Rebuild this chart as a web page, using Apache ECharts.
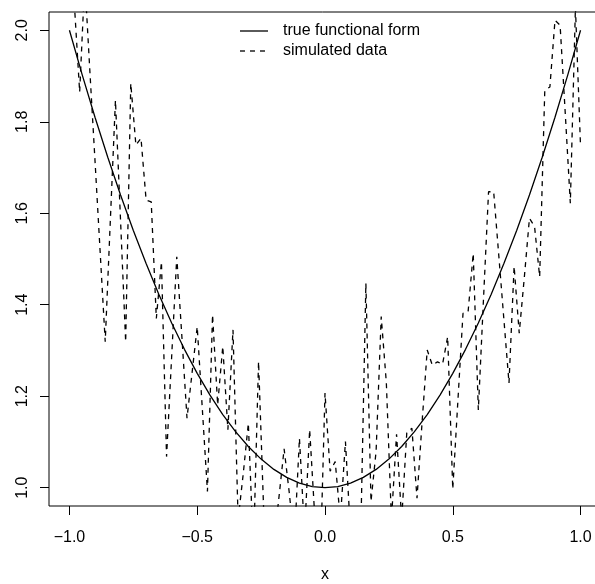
<!DOCTYPE html>
<html>
<head>
<meta charset="utf-8">
<script src="https://cdn.jsdelivr.net/npm/echarts@6/dist/echarts.min.js"></script>
<style>html,body{margin:0;padding:0;background:#fff;}#chart{width:595px;height:584px;}</style>
</head>
<body>
<div id="chart"></div>
<script>
// x positions of the simulated data (step 0.02)
const xSim = [-1.00,-0.98,-0.96,-0.94,-0.92,-0.90,-0.88,-0.86,-0.84,-0.82,-0.80,-0.78,-0.76,-0.74,-0.72,-0.70,-0.68,-0.66,-0.64,-0.62,
  -0.60,-0.58,-0.56,-0.54,-0.52,-0.50,-0.48,-0.46,-0.44,-0.42,-0.40,-0.38,-0.36,-0.34,-0.32,-0.30,-0.28,-0.26,-0.24,-0.22,
  -0.20,-0.18,-0.16,-0.14,-0.12,-0.10,-0.08,-0.06,-0.04,-0.02,0.00,0.02,0.04,0.06,0.08,0.10,0.12,0.14,0.16,0.18,
  0.20,0.22,0.24,0.26,0.28,0.30,0.32,0.34,0.36,0.38,0.40,0.42,0.44,0.46,0.48,0.50,0.52,0.54,0.56,0.58,
  0.60,0.62,0.64,0.66,0.68,0.70,0.72,0.74,0.76,0.78,0.80,0.82,0.84,0.86,0.88,0.90,0.92,0.94,0.96,0.98,1.00];
// simulated data values
const ySim = [2.08,2.05,1.865,2.11,1.91,1.715,1.517,1.319,1.584,1.847,1.584,1.319,1.884,1.749,1.764,1.629,1.625,1.370,1.494,1.068,
  1.287,1.505,1.330,1.152,1.252,1.352,1.172,0.992,1.378,1.181,1.309,1.127,1.345,0.93,1.03,1.141,0.86,1.276,0.95,0.85,
  0.88,0.98,1.085,0.99,0.88,1.108,0.90,1.127,0.937,0.80,1.207,1.036,1.057,0.93,1.101,0.90,0.85,0.90,1.447,0.97,
  1.08,1.374,1.23,0.93,1.117,0.93,1.12,1.13,0.977,1.144,1.301,1.268,1.275,1.270,1.330,0.997,1.19,1.381,1.385,1.512,
  1.170,1.41,1.647,1.647,1.508,1.368,1.229,1.484,1.338,1.46,1.589,1.571,1.461,1.869,1.876,2.022,2.011,1.82,1.622,2.05,1.745];
// true functional form, read at step 0.05
const xTrue = [-1.00,-0.95,-0.90,-0.85,-0.80,-0.75,-0.70,-0.65,-0.60,-0.55,-0.50,-0.45,-0.40,-0.35,-0.30,-0.25,-0.20,-0.15,-0.10,-0.05,
  0.00,0.05,0.10,0.15,0.20,0.25,0.30,0.35,0.40,0.45,0.50,0.55,0.60,0.65,0.70,0.75,0.80,0.85,0.90,0.95,1.00];
const yTrue = [2.000,1.9025,1.810,1.7225,1.640,1.5625,1.490,1.4225,1.360,1.3025,1.250,1.2025,1.160,1.1225,1.090,1.0625,1.040,1.0225,1.010,1.0025,
  1.000,1.0025,1.010,1.0225,1.040,1.0625,1.090,1.1225,1.160,1.2025,1.250,1.3025,1.360,1.4225,1.490,1.5625,1.640,1.7225,1.810,1.9025,2.000];
const xTicks = [-1.0,-0.5,0.0,0.5,1.0];
const yTicks = [1.0,1.2,1.4,1.6,1.8,2.0];
const seriesNames = ['true functional form','simulated data'];

const FONT = 'Liberation Sans, Arial, Helvetica, sans-serif';
const chart = echarts.init(document.getElementById('chart'), null, {renderer:'canvas'});
const fmt = v => v.toFixed(1).replace('-', '\u2212');

// legend drawn as graphic elements (R style, no box)
const legendGraphics = [];
seriesNames.forEach((name, i) => {
  const y = 31 + i * 20;
  legendGraphics.push({
    type: 'line', shape: {x1: 240, y1: y, x2: 268, y2: y},
    style: {stroke: '#000', lineWidth: 1.3, lineDash: i === 0 ? null : [5, 5]}
  });
  legendGraphics.push({
    type: 'text', x: 283, y: y,
    style: {text: name, fontFamily: FONT, fontSize: 16, fill: '#000', textVerticalAlign: 'middle', verticalAlign: 'middle'}
  });
});

chart.setOption({
  animation: false,
  backgroundColor: '#fff',
  textStyle: {fontFamily: FONT, color: '#000'},
  grid: {left: 49, top: 12, width: 552, height: 494, show: true, borderColor: '#000', borderWidth: 1,
         backgroundColor: 'transparent', containLabel: false, outerBoundsMode: 'none'},
  graphic: legendGraphics,
  xAxis: {
    type: 'value', min: -1.08, max: 1.08,
    name: 'x', nameLocation: 'middle', nameGap: 61,
    nameTextStyle: {fontFamily: FONT, fontSize: 16, color: '#000'},
    axisLine: {show: false, onZero: false},
    axisTick: {show: true, customValues: xTicks, length: 9, lineStyle: {color: '#000', width: 1}},
    axisLabel: {show: true, customValues: xTicks, formatter: fmt, margin: 24, fontFamily: FONT, fontSize: 16, color: '#000'},
    splitLine: {show: false}
  },
  yAxis: {
    type: 'value', min: 0.96, max: 2.04,
    axisLine: {show: false, onZero: false},
    axisTick: {show: true, customValues: yTicks, length: 9, lineStyle: {color: '#000', width: 1}},
    axisLabel: {show: true, customValues: yTicks, formatter: v => v.toFixed(1), rotate: 90, margin: 18, fontFamily: FONT, fontSize: 16, color: '#000'},
    splitLine: {show: false}
  },
  series: [
    {name: seriesNames[0], type: 'line', symbol: 'none', clip: true,
     data: xTrue.map((x, i) => [x, yTrue[i]]),
     lineStyle: {color: '#000', width: 1.3, type: 'solid'}, itemStyle: {color: '#000'}},
    {name: seriesNames[1], type: 'line', symbol: 'none', clip: true,
     data: xSim.map((x, i) => [x, ySim[i]]),
     lineStyle: {color: '#000', width: 1.3, type: [5, 5]}, itemStyle: {color: '#000'}}
  ]
});
</script>
</body>
</html>
